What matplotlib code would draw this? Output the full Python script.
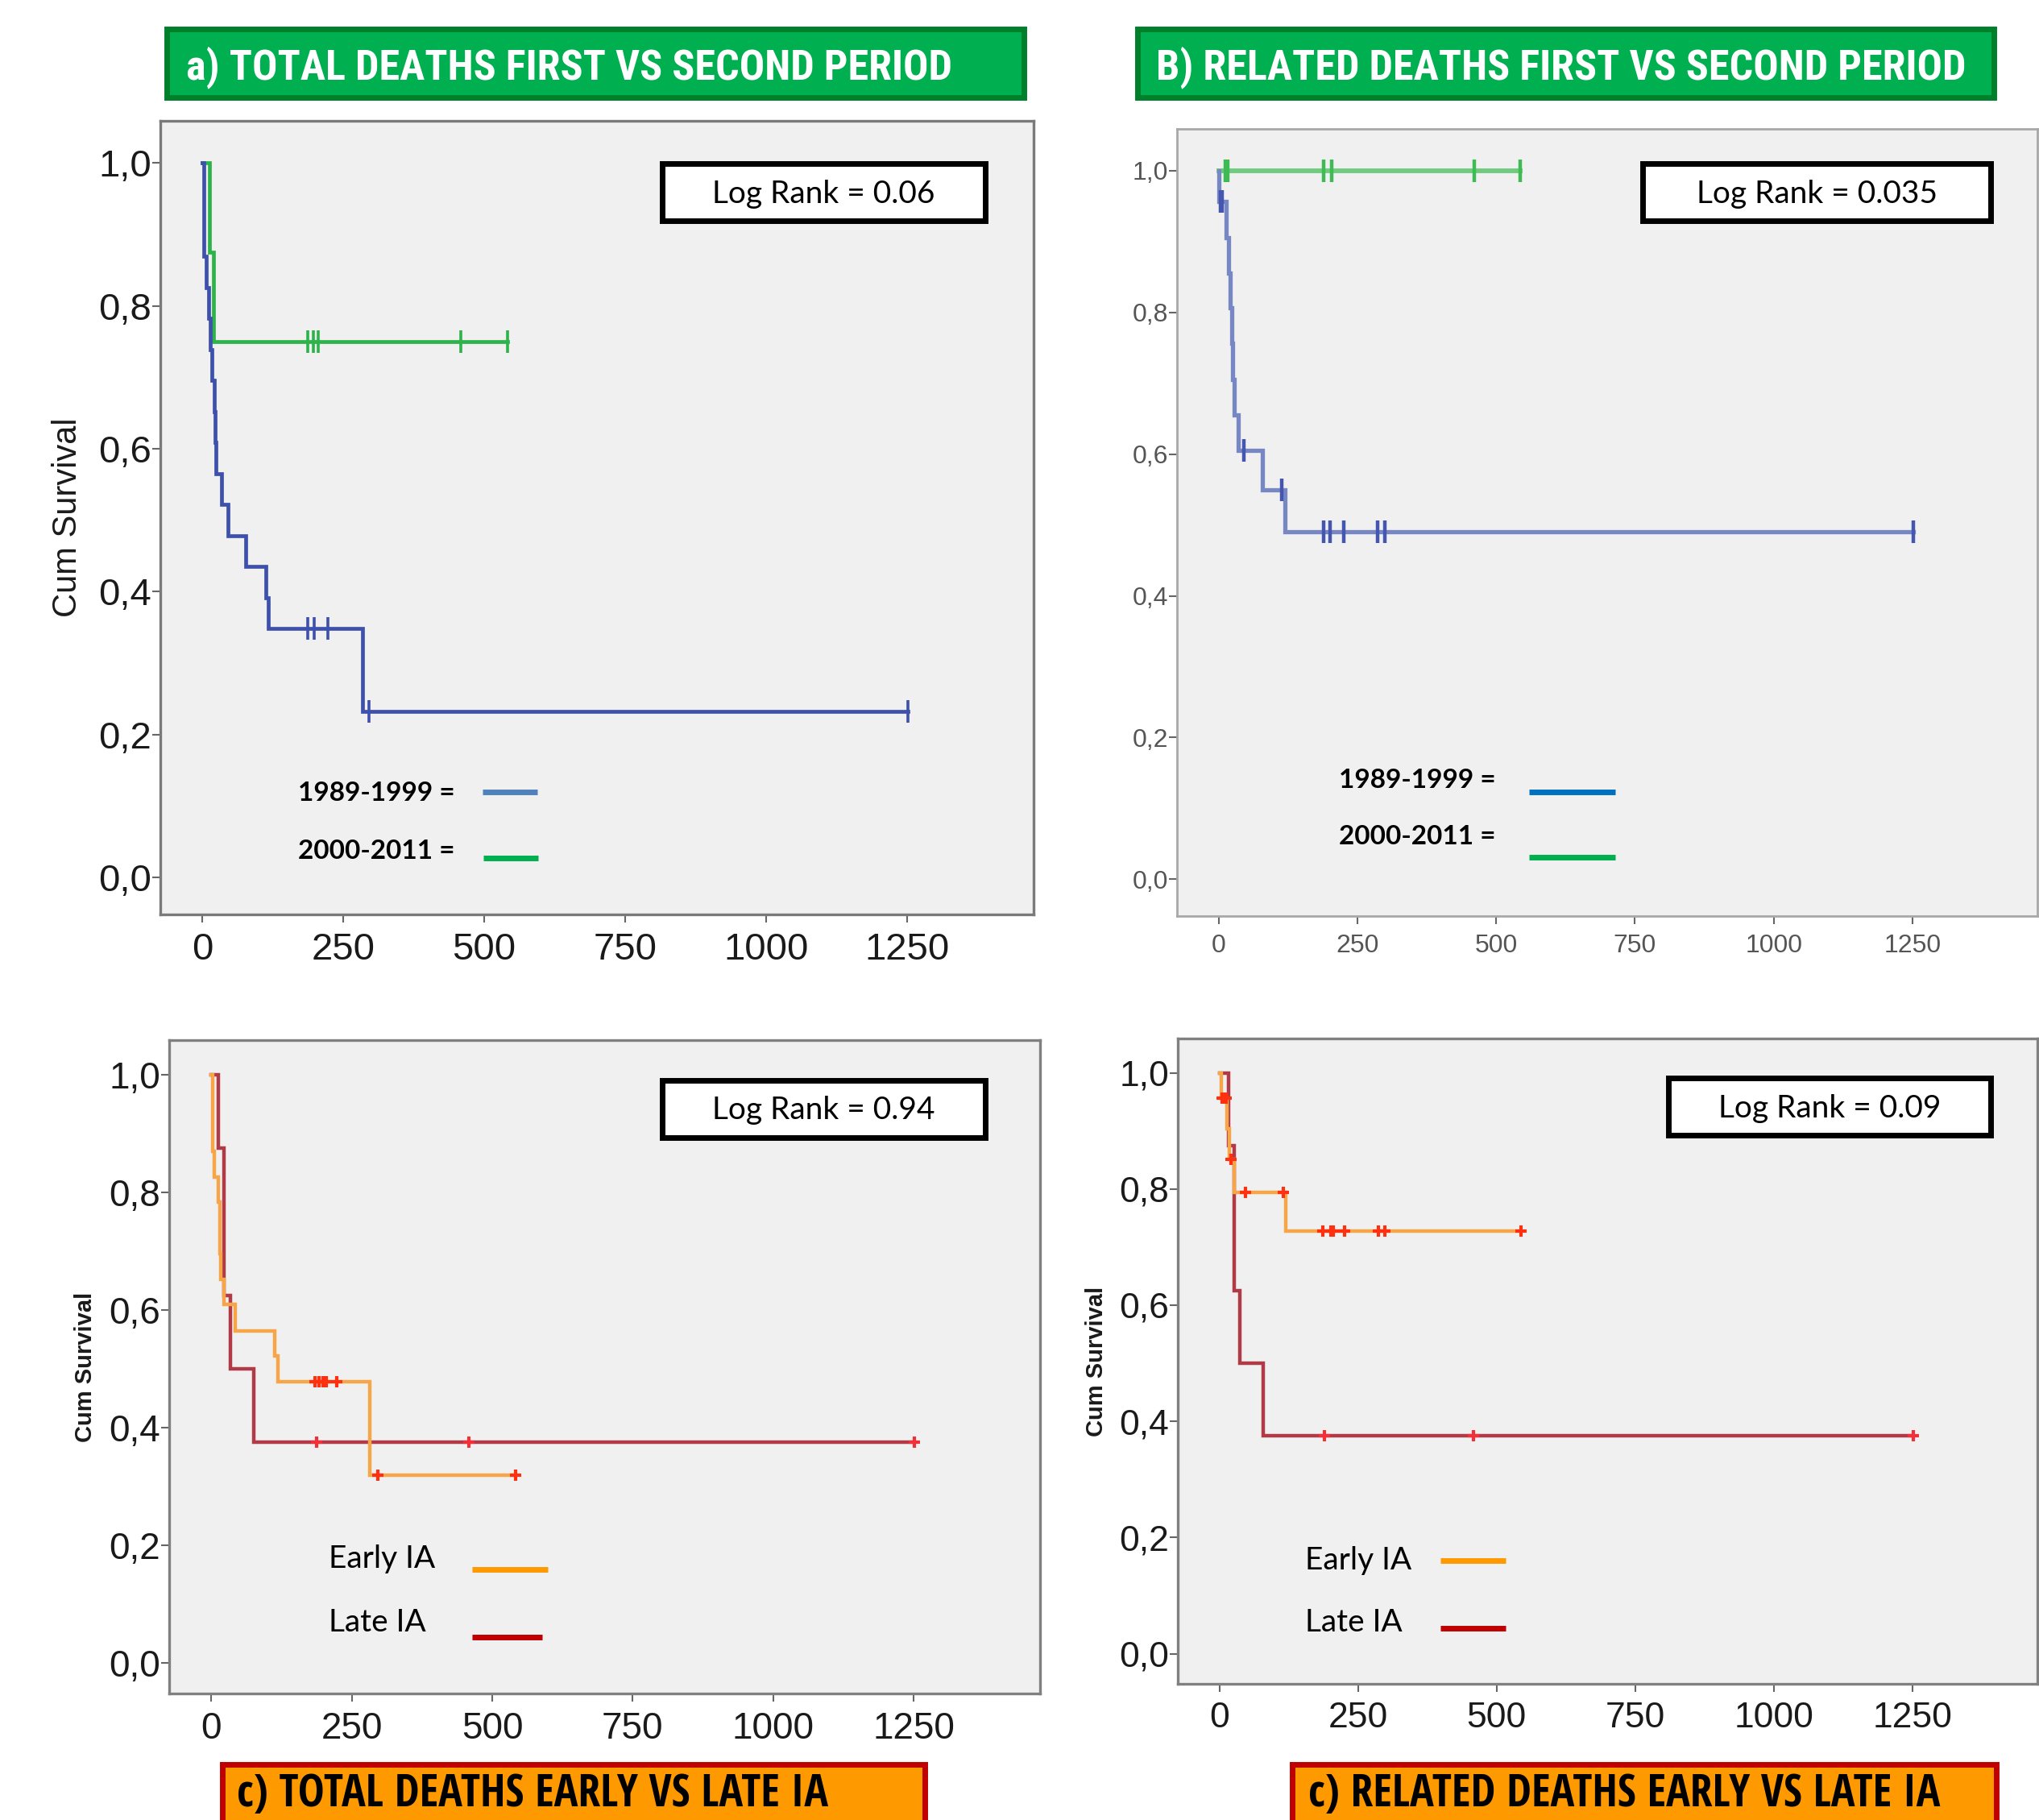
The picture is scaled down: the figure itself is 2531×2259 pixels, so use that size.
import matplotlib
matplotlib.use('Agg')
import matplotlib.pyplot as plt
from matplotlib.patches import Rectangle
from matplotlib.lines import Line2D
import numpy as np

W, H = 2531, 2259

#%% data (days, cumulative survival)
# a) total deaths, first vs second period
a_blue_t = [0, 2, 7, 11, 14, 16, 21, 22, 23, 33, 45, 76, 112, 117, 284]
a_blue_s = [1.0, 0.870, 0.826, 0.783, 0.739, 0.696, 0.652, 0.609, 0.565, 0.522, 0.478, 0.435, 0.391, 0.348, 0.232]
a_blue_cens = [186, 198, 222, 296, 1252]
a_green_t = [0, 12, 20]
a_green_s = [1.0, 0.875, 0.75]
a_green_cens = [186, 197, 205, 458, 541]

# B) related deaths, first vs second period
b_blue_t = [0, 1, 13, 18, 21, 23, 25, 28, 35, 79, 120]
b_blue_s = [1.0, 0.957, 0.906, 0.856, 0.806, 0.756, 0.705, 0.655, 0.605, 0.549, 0.490]
b_blue_cens = [3, 6, 46, 114, 189, 201, 225, 286, 299, 1252]
b_green_t = [0]
b_green_s = [1.0]
b_green_cens = [12, 17, 189, 204, 461, 543]

# c) total deaths, early vs late IA
c_early_t = [0, 2, 5, 12, 15, 16, 17, 22, 43, 113, 118, 282]
c_early_s = [1.0, 0.870, 0.826, 0.783, 0.739, 0.696, 0.652, 0.609, 0.565, 0.522, 0.478, 0.319]
c_early_cens = [184, 192, 199, 204, 223, 297, 542]
c_late_t = [0, 12, 22, 34, 76]
c_late_s = [1.0, 0.875, 0.625, 0.5, 0.375]
c_late_cens = [187, 458, 1252]

# d) related deaths, early vs late IA
d_early_t = [0, 3, 14, 18, 27, 120]
d_early_s = [1.0, 0.957, 0.904, 0.851, 0.794, 0.727]
d_early_cens = [5, 9, 12, 21, 47, 115, 187, 201, 206, 226, 286, 298, 544]
d_late_t = [0, 16, 26, 37, 79]
d_late_s = [1.0, 0.875, 0.625, 0.5, 0.375]
d_late_cens = [189, 458, 1252]

x_ticks = [0, 250, 500, 750, 1000, 1250]
y_ticks = [0.0, 0.2, 0.4, 0.6, 0.8, 1.0]
y_labels = ['0,0', '0,2', '0,4', '0,6', '0,8', '1,0']

titles = ['a) TOTAL DEATHS FIRST VS SECOND PERIOD', 'B) RELATED DEATHS FIRST VS SECOND PERIOD',
          'c) TOTAL DEATHS EARLY VS LATE IA', 'c) RELATED DEATHS EARLY VS LATE IA']
log_ranks = ['Log Rank = 0.06', 'Log Rank = 0.035', 'Log Rank = 0.94', 'Log Rank = 0.09']

TXT = 'Lato'
HEAD_TOP = 'Roboto Condensed'
HEAD_BOT = 'Open Sans Condensed'
NUM = 'Liberation Sans'


def fx(x):
    return x / W


def fy(y):
    return 1 - y / H


def km(ax, t, s, cens, color, lw, mcolor, marker, ms, mew, alpha=1.0):
    t = np.asarray(t, float)
    s = np.asarray(s, float)
    end = max(cens)
    xs = np.append(t, end)
    ys = np.append(s, s[-1])
    ax.step(xs, ys, where='post', color=color, lw=lw, alpha=alpha, solid_joinstyle='miter', zorder=3)
    cy = s[np.searchsorted(t, cens, side='right') - 1]
    ax.plot(cens, cy, ls='none', marker=marker, ms=ms, mew=mew, color=mcolor, zorder=4)


def setup(ax, fs, tcolor, spc, splw):
    ax.set_facecolor('#f0f0f0')
    ax.set_xlim(-75, 1475)
    ax.set_ylim(-0.052, 1.059)
    ax.set_xticks(x_ticks)
    ax.set_xticklabels([str(v) for v in x_ticks])
    ax.set_yticks(y_ticks)
    ax.set_yticklabels(y_labels)
    for sp in ax.spines.values():
        sp.set_color(spc)
        sp.set_linewidth(splw)
    ax.tick_params(axis='both', direction='out', length=7, width=1.5, color='#666666',
                   labelsize=fs, labelcolor=tcolor, top=False, right=False)
    ax.tick_params(axis='y', pad=1)
    ax.tick_params(axis='x', pad=9)
    for lab in ax.get_xticklabels() + ax.get_yticklabels():
        lab.set_fontfamily(NUM)


def box(x0, y0, x1, y1, fc, ec, lw):
    fig.add_artist(Rectangle((fx(x0), fy(y1)), fx(x1) - fx(x0), fy(y0) - fy(y1),
                             transform=fig.transFigure, facecolor=fc, edgecolor=ec,
                             linewidth=lw, zorder=10))


def bar(x0, x1, y, color):
    fig.add_artist(Line2D([fx(x0), fx(x1)], [fy(y), fy(y)], transform=fig.transFigure,
                          color=color, lw=5, solid_capstyle='butt', zorder=10))


fig = plt.figure(figsize=(W / 100, H / 100), dpi=100)
fig.patch.set_facecolor('white')

# axes rectangles, figure fractions
ax_a = fig.add_axes([fx(199), fy(1135), fx(1283 - 199), (1135 - 150) / H])
ax_b = fig.add_axes([fx(1461), fy(1137), fx(2529 - 1461), (1137 - 160) / H])
ax_c = fig.add_axes([fx(210), fy(2102), fx(1291 - 210), (2102 - 1291) / H])
ax_d = fig.add_axes([fx(1462), fy(2090), fx(2529 - 1462), (2090 - 1289) / H])

setup(ax_a, 34, '#1a1a1a', '#7a7a7a', 2.4)
setup(ax_b, 23, '#555555', '#a8a8a8', 2.0)
setup(ax_c, 33, '#1a1a1a', '#808080', 2.4)
setup(ax_d, 32, '#1a1a1a', '#808080', 2.4)

# a
km(ax_a, a_green_t, a_green_s, a_green_cens, '#2eb24a', 3.4, '#2eb24a', '|', 20, 2.6)
km(ax_a, a_blue_t, a_blue_s, a_blue_cens, '#3d51ac', 3.4, '#3d51ac', '|', 20, 2.6)
# B
km(ax_b, b_green_t, b_green_s, b_green_cens, '#6fcb7e', 4.2, '#3fbb55', '|', 20, 3.2)
km(ax_b, b_blue_t, b_blue_s, b_blue_cens, '#7787c4', 3.8, '#4456b0', '|', 20, 3.2)
# c
km(ax_c, c_late_t, c_late_s, c_late_cens, '#b03a45', 3.2, '#f0303a', '+', 10, 3.0)
km(ax_c, c_early_t, c_early_s, c_early_cens, '#f6a649', 3.2, '#ff3010', '+', 10, 3.0)
# d
km(ax_d, d_late_t, d_late_s, d_late_cens, '#b03a45', 3.2, '#f0303a', '+', 10, 3.0)
km(ax_d, d_early_t, d_early_s, d_early_cens, '#f6a649', 3.2, '#ff3010', '+', 10, 3.0)

# y axis titles
fig.text(fx(84), fy(642), 'Cum Survival', rotation=90, ha='center', va='center',
         fontsize=30, family=NUM, color='#1a1a1a')
fig.text(fx(106), fy(1697), 'Cum Survival', rotation=90, ha='center', va='center',
         fontsize=21, family=NUM, weight='bold', color='#1a1a1a')
fig.text(fx(1361), fy(1690), 'Cum Survival', rotation=90, ha='center', va='center',
         fontsize=21, family=NUM, weight='bold', color='#1a1a1a')

# panel titles
box(207, 36, 1271, 121, '#00b050', '#00802a', 5)
fig.text(fx(231), fy(98), titles[0], ha='left', va='baseline', fontsize=37.5, family=HEAD_TOP,
         weight='bold', color='white', zorder=11)
box(1412, 36, 2475, 121, '#00b050', '#00802a', 5)
fig.text(fx(1435), fy(98), titles[1], ha='left', va='baseline', fontsize=37.5, family=HEAD_TOP,
         weight='bold', color='white', zorder=11)
box(276, 2190, 1148, 2290, '#ff9900', '#c00000', 5)
fig.text(fx(294), fy(2242), titles[2], ha='left', va='baseline', fontsize=40, family=HEAD_BOT,
         weight='bold', color='black', zorder=11)
box(1604, 2190, 2478, 2290, '#ff9900', '#c00000', 5)
fig.text(fx(1624), fy(2242), titles[3], ha='left', va='baseline', fontsize=40, family=HEAD_BOT,
         weight='bold', color='black', zorder=11)

# log rank boxes
for (x0, y0, x1, y1), txt in zip([(822, 203, 1223, 274), (2039, 203, 2471, 274),
                                  (822, 1341, 1223, 1412), (2071, 1338, 2471, 1409)], log_ranks):
    box(x0, y0, x1, y1, 'white', 'black', 5)
    fig.text(fx((x0 + x1) / 2), fy((y0 + y1) / 2 + 2), txt, ha='center', va='center',
             fontsize=28, family=TXT, color='black', zorder=11)

# legends
fig.text(fx(370), fy(985), '1989-1999 =', ha='left', va='center', fontsize=24, family=TXT,
         weight='bold', zorder=11)
fig.text(fx(370), fy(1057), '2000-2011 =', ha='left', va='center', fontsize=24, family=TXT,
         weight='bold', zorder=11)
bar(599, 667, 983, '#4f81bd')
bar(600, 668, 1065, '#00b050')

fig.text(fx(1662), fy(968), '1989-1999 =', ha='left', va='center', fontsize=24, family=TXT,
         weight='bold', zorder=11)
fig.text(fx(1662), fy(1039), '2000-2011 =', ha='left', va='center', fontsize=24, family=TXT,
         weight='bold', zorder=11)
bar(1898, 2005, 983, '#0070c0')
bar(1898, 2005, 1064, '#00b050')

fig.text(fx(408), fy(1935), 'Early IA', ha='left', va='center', fontsize=28, family=TXT, zorder=11)
fig.text(fx(408), fy(2014), 'Late IA', ha='left', va='center', fontsize=28, family=TXT, zorder=11)
bar(586, 680, 1948, '#ff9900')
bar(586, 673, 2032, '#c00000')

fig.text(fx(1620), fy(1937), 'Early IA', ha='left', va='center', fontsize=28, family=TXT, zorder=11)
fig.text(fx(1620), fy(2014), 'Late IA', ha='left', va='center', fontsize=28, family=TXT, zorder=11)
bar(1788, 1869, 1937, '#ff9900')
bar(1788, 1869, 2021, '#c00000')

fig.savefig('out.png', dpi=100)
